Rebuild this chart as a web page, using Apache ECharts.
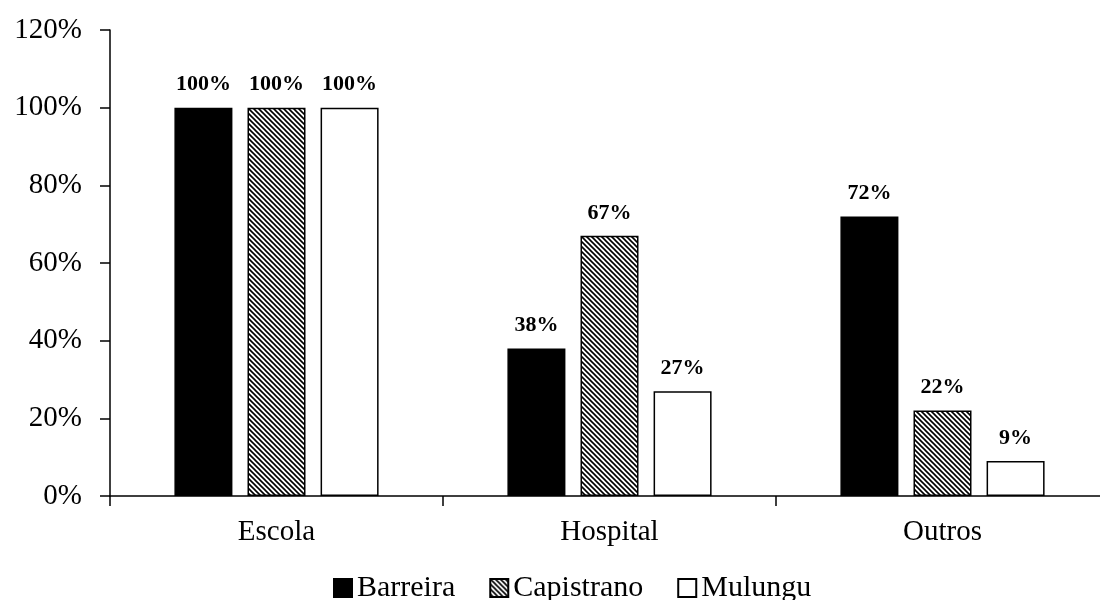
<!DOCTYPE html>
<html>
<head>
<meta charset="utf-8">
<script src="https://cdn.jsdelivr.net/npm/echarts@6/dist/echarts.min.js"></script>
<style>
  html, body { margin: 0; padding: 0; background: #fff; overflow: hidden; }
  /* the plot runs a few pixels past the right edge of the window */
  #chart { width: 1109px; height: 600px; }
</style>
</head>
<body>
<div id="chart"></div>
<script>
// Categories and per-city percentages
const categories = ['Escola', 'Hospital', 'Outros'];
const barreira = [100, 38, 72];
const capistrano = [100, 67, 22];
const mulungu = [100, 27, 9];
const yTicks = [0, 20, 40, 60, 80, 100, 120];

const SERIF = "'Liberation Serif', 'Times New Roman', serif";

// Diagonal hatch tile for the Capistrano bars
function hatchPattern() {
  const size = 5;
  const c = document.createElement('canvas');
  c.width = size; c.height = size;
  const g = c.getContext('2d');
  g.fillStyle = '#fff';
  g.fillRect(0, 0, size, size);
  g.strokeStyle = '#000';
  g.lineWidth = 1.6;
  g.beginPath();
  for (let k = -1; k <= 1; k++) {
    g.moveTo(k * size - 1, -1);
    g.lineTo(k * size + size + 1, size + 1);
  }
  g.stroke();
  return { image: c, repeat: 'repeat' };
}

const labelStyle = {
  show: true,
  position: 'top',
  distance: 12,
  formatter: '{c}%',
  color: '#000',
  fontFamily: SERIF,
  fontWeight: 'bold',
  fontSize: 22
};

const chart = echarts.init(document.getElementById('chart'), null, { renderer: 'canvas' });

chart.setOption({
  animation: false,
  backgroundColor: '#fff',
  grid: { left: 110, top: 30, right: 0, bottom: 104, containLabel: false },
  legend: {
    bottom: -8,
    left: 328,
    icon: 'rect',
    itemWidth: 18,
    itemHeight: 18,
    itemGap: 34,
    textStyle: { fontFamily: SERIF, fontSize: 30, color: '#000' },
    data: ['Barreira', 'Capistrano', 'Mulungu']
  },
  xAxis: {
    type: 'category',
    data: categories,
    axisLine: { lineStyle: { color: '#000', width: 1.5 } },
    axisTick: { show: true, length: 10, alignWithLabel: false, lineStyle: { color: '#000', width: 1.5 } },
    axisLabel: { color: '#000', fontFamily: SERIF, fontSize: 29, margin: 22 },
    splitLine: { show: false }
  },
  yAxis: {
    type: 'value',
    min: yTicks[0],
    max: yTicks[yTicks.length - 1],
    interval: 20,
    axisLine: { show: true, lineStyle: { color: '#000', width: 1.5 } },
    axisTick: { show: true, length: 10, lineStyle: { color: '#000', width: 1.5 } },
    axisLabel: { color: '#000', fontFamily: SERIF, fontSize: 29, margin: 28, formatter: '{value}%' },
    splitLine: { show: false }
  },
  series: [
    {
      name: 'Barreira',
      type: 'bar',
      data: barreira,
      barWidth: 58,
      barGap: '26%',
      itemStyle: { color: '#000', borderColor: '#000', borderWidth: 1.5 },
      label: labelStyle
    },
    {
      name: 'Capistrano',
      type: 'bar',
      data: capistrano,
      barWidth: 58,
      itemStyle: { color: hatchPattern(), borderColor: '#000', borderWidth: 1.5 },
      label: labelStyle
    },
    {
      name: 'Mulungu',
      type: 'bar',
      data: mulungu,
      barWidth: 58,
      itemStyle: { color: '#fff', borderColor: '#000', borderWidth: 1.5 },
      label: labelStyle
    }
  ]
});
</script>
</body>
</html>
